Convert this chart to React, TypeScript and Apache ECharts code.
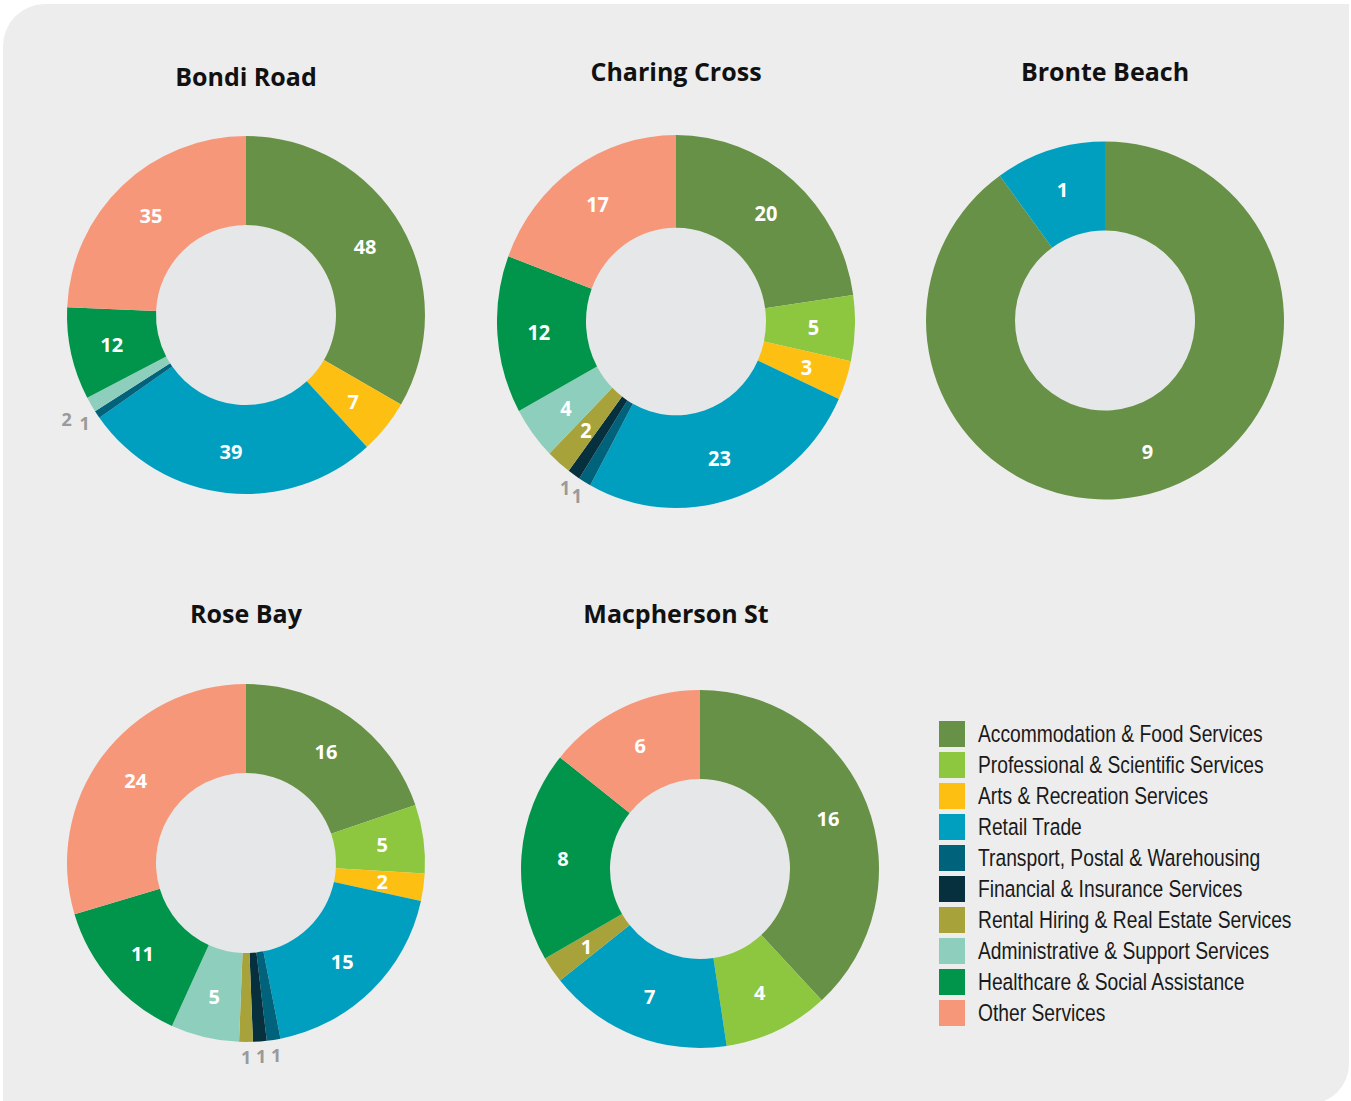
import React, { useEffect, useRef } from "react";
import * as echarts from "echarts";

const CATEGORIES = [
  "Accommodation & Food Services",
  "Professional & Scientific Services",
  "Arts & Recreation Services",
  "Retail Trade",
  "Transport, Postal & Warehousing",
  "Financial & Insurance Services",
  "Rental Hiring & Real Estate Services",
  "Administrative & Support Services",
  "Healthcare & Social Assistance",
  "Other Services",
];
const COLORS = [
  "#679146",
  "#8dc63f",
  "#fcbf12",
  "#009fbf",
  "#00627b",
  "#07303f",
  "#a8a23a",
  "#8dcfbc",
  "#00954a",
  "#f7977a",
];

const LOCATIONS = ["Bondi Road", "Charing Cross", "Bronte Beach", "Rose Bay", "Macpherson St"];
const BONDI_ROAD = [48, 0, 7, 39, 1, 0, 0, 2, 12, 35];
const CHARING_CROSS = [20, 5, 3, 23, 1, 1, 2, 4, 12, 17];
const BRONTE_BEACH = [9, 0, 0, 1, 0, 0, 0, 0, 0, 0];
const ROSE_BAY = [16, 5, 2, 15, 1, 1, 1, 5, 11, 24];
const MACPHERSON_ST = [16, 4, 0, 7, 0, 0, 1, 0, 8, 6];

const VALUES: Record<string, number[]> = {
  "Bondi Road": BONDI_ROAD,
  "Charing Cross": CHARING_CROSS,
  "Bronte Beach": BRONTE_BEACH,
  "Rose Bay": ROSE_BAY,
  "Macpherson St": MACPHERSON_ST,
};

// layout (positions only)
const LAYOUT: Record<string, { cx: number; cy: number; tx: number; ty: number }> = {
  "Bondi Road": { cx: 246, cy: 315, tx: 246, ty: 76 },
  "Charing Cross": { cx: 676, cy: 321.5, tx: 676, ty: 71 },
  "Bronte Beach": { cx: 1105, cy: 320.5, tx: 1105, ty: 71 },
  "Rose Bay": { cx: 246, cy: 863, tx: 246, ty: 613 },
  "Macpherson St": { cx: 700, cy: 869, tx: 676, ty: 613 },
};

const R_IN = 90;
const R_OUT = 179;
const SMALL_ANGLE = 6; // degrees: labels of narrower slices go outside
const OUT_LEN = 15; // outside label distance from ring
const OUT_LEN_STAGGER = 28; // for an outside label that would collide with the previous one
const OUT_W = 11;
const OUT_H = 17;
const LABEL_FONT = "'Open Sans', 'Noto Sans', sans-serif";
const CHARING_STRETCH = 1.042;
const LEGEND_SQUEEZE = 0.82;
const LEGEND_LEFT = 939;

function buildSeries(loc: string): any[] {
  const vals = VALUES[loc];
  const { cx, cy } = LAYOUT[loc];
  const total = vals.reduce((a, b) => a + b, 0);
  const items = vals.map((v, i) => ({ v, i })).filter((d) => d.v > 0);
  const isSmall = (v: number) => (v / total) * 360 < SMALL_ANGLE;

  // decide outside-label distance so that neighbouring outside labels do not collide
  let acc = 0;
  let prev: { x: number; y: number } | null = null;
  const lens: number[] = items.map((d) => {
    const mid = ((acc + d.v / 2) / total) * 2 * Math.PI;
    acc += d.v;
    if (!isSmall(d.v)) {
      prev = null;
      return OUT_LEN;
    }
    const rho = R_OUT + OUT_LEN;
    const p = { x: Math.sin(mid) * rho, y: -Math.cos(mid) * rho };
    let len = OUT_LEN;
    if (prev && Math.abs(p.x - prev.x) < OUT_W && Math.abs(p.y - prev.y) < OUT_H) {
      len = OUT_LEN_STAGGER;
      prev = null;
    } else {
      prev = p;
    }
    return len;
  });

  return [
    {
      type: "pie",
      name: loc + " hole",
      center: [cx, cy],
      radius: [0, R_IN],
      silent: true,
      label: { show: false },
      labelLine: { show: false },
      itemStyle: { color: "#e6e7e8" },
      data: [{ value: 1, name: "" }],
      z: 1,
    },
    {
      type: "pie",
      name: loc,
      center: [cx, cy],
      radius: [R_IN, R_OUT],
      startAngle: 90,
      clockwise: true,
      avoidLabelOverlap: false,
      minShowLabelAngle: 0,
      labelLayout: { hideOverlap: false },
      silent: true,
      label: {
        show: true,
        position: "inside",
        formatter: "{c}",
        color: "#ffffff",
        fontSize: 20,
        fontWeight: "bold",
        fontFamily: LABEL_FONT,
        overflow: "none",
      },
      labelLine: { show: false, length: OUT_LEN, length2: 0 },
      data: items.map((d, k) => ({
        name: CATEGORIES[d.i],
        value: d.v,
        itemStyle: { color: COLORS[d.i] },
        label: isSmall(d.v)
          ? {
              show: true,
              position: "outside",
              color: "#9a9a9a",
              fontSize: 18,
              distanceToLabelLine: -5,
            }
          : { show: true },
        labelLine: { show: false, length: lens[k], length2: 0 },
      })),
      z: 2,
    },
  ];
}

export default function App() {
  const mainRef = useRef<HTMLDivElement>(null);
  const ccRef = useRef<HTMLDivElement>(null);
  const legRef = useRef<HTMLDivElement>(null);

  useEffect(() => {
    if (!mainRef.current || !ccRef.current || !legRef.current) return;
    const main = echarts.init(mainRef.current, undefined, { renderer: "svg" });
    const cc = echarts.init(ccRef.current, undefined, { renderer: "svg" });
    const leg = echarts.init(legRef.current, undefined, { renderer: "svg" });

    const mainLocs = LOCATIONS.filter((l) => l !== "Charing Cross");
    const series: any[] = [];
    mainLocs.forEach((l) => series.push(...buildSeries(l)));

    main.setOption({
      animation: false,
      backgroundColor: "#ffffff",
      graphic: [
        {
          type: "rect",
          z: -10,
          silent: true,
          shape: { x: 3, y: 4, width: 1346, height: 1100, r: [42, 0, 40, 0] },
          style: { fill: "#ededed" },
        },
        ...LOCATIONS.map((l) => ({
          type: "text",
          x: LAYOUT[l].tx,
          y: LAYOUT[l].ty,
          silent: true,
          style: {
            text: l,
            fill: "#111111",
            fontSize: 25,
            fontWeight: "bold",
            fontFamily: LABEL_FONT,
            align: "center",
            verticalAlign: "middle",
          },
        })),
      ],
      series,
    });

    cc.setOption({
      animation: false,
      series: buildSeries("Charing Cross"),
    });

    // legend: totals per category feed an invisible (zero-radius) pie so the legend has its names
    const totals = CATEGORIES.map((_, i) =>
      LOCATIONS.reduce((s, l) => s + VALUES[l][i], 0)
    );
    const iconW = 26 / LEGEND_SQUEEZE;
    const textStart = (978 - LEGEND_LEFT) / LEGEND_SQUEEZE;
    leg.setOption({
      animation: false,
      legend: {
        orient: "vertical",
        left: LEGEND_LEFT,
        top: 721,
        padding: 0,
        itemWidth: iconW,
        itemHeight: 26,
        itemGap: 5,
        icon: "rect",
        selectedMode: false,
        textStyle: {
          fontFamily: "'Liberation Sans', Arial, sans-serif",
          fontSize: 23.5,
          color: "#1a1a1a",
          padding: [0, 0, 0, textStart - iconW - 5],
        },
        data: CATEGORIES.map((n, i) => ({ name: n, itemStyle: { color: COLORS[i] } })),
      },
      series: [
        {
          type: "pie",
          name: "All locations",
          center: [LEGEND_LEFT, 721],
          radius: [0, 0],
          silent: true,
          label: { show: false },
          labelLine: { show: false },
          data: CATEGORIES.map((n, i) => ({
            name: n,
            value: totals[i],
            itemStyle: { color: COLORS[i] },
          })),
        },
      ],
    });

    return () => {
      main.dispose();
      cc.dispose();
      leg.dispose();
    };
  }, []);

  const ccl = LAYOUT["Charing Cross"];
  const layer: React.CSSProperties = {
    position: "absolute",
    left: 0,
    top: 0,
    width: 1351,
    height: 1101,
  };
  return (
    <div style={{ ...layer, overflow: "hidden" }}>
      <div ref={mainRef} style={layer} />
      <div
        ref={ccRef}
        style={{
          ...layer,
          pointerEvents: "none",
          transform: `scaleY(${CHARING_STRETCH})`,
          transformOrigin: `${ccl.cx}px ${ccl.cy}px`,
        }}
      />
      <div
        ref={legRef}
        style={{
          ...layer,
          width: 1800,
          pointerEvents: "none",
          transform: `scaleX(${LEGEND_SQUEEZE})`,
          transformOrigin: `${LEGEND_LEFT}px 0px`,
        }}
      />
    </div>
  );
}
